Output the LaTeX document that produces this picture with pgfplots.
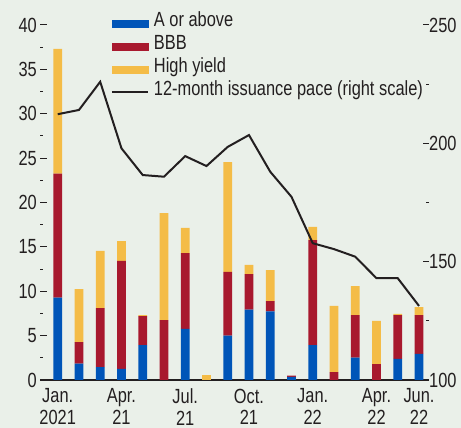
\documentclass[border=0pt]{standalone}
\usepackage{pgfplots}
\pgfplotsset{compat=1.18}
\usepackage{pgfplotstable}
\usepackage{fontspec}
\setmainfont{Liberation Sans}[FakeStretch=0.8]
\definecolor{bg}{HTML}{EAF0E9}
\definecolor{cblue}{HTML}{0055B8}
\definecolor{cred}{HTML}{A8192E}
\definecolor{cyel}{HTML}{F4BC47}
\definecolor{txt}{HTML}{231F20}
\pgfplotstableread{
m blue red yel
0 9.27 13.98 14.05
1 1.84 2.44 5.97
2 1.46 6.65 6.43
3 1.24 12.17 2.25
4 3.94 3.27 0.11
5 0 6.76 12.04
6 5.75 8.55 2.83
7 0 0 0.56
8 5.00 7.17 12.39
9 7.92 4.02 1.02
10 7.74 1.16 3.49
11 0.34 0.15 0
12 3.94 11.83 1.47
13 0 0.90 7.44
14 2.52 4.80 3.27
15 0 1.80 4.85
16 2.37 4.95 0.12
17 2.93 4.39 0.90
}\bars
\pgfplotstableread{
m pace
0 212.3
1 214.1
2 226.0
3 197.9
4 186.6
5 185.9
6 194.6
7 190.4
8 198.5
9 203.5
10 188.0
11 177.4
12 157.8
13 155.3
14 152.1
15 143.0
16 143.0
17 131.3
}\pace
\newcommand{\chartfont}{\fontsize{20.5bp}{21.7bp}\selectfont}
\pgfplotsset{
  common/.style={
    scale only axis, width=389bp, height=355bp,
    at={(0bp,0bp)}, anchor=south west,
    xmin=-0.833, xmax=17.47,
    tick align=inside,
    major tick length=6.5bp, minor tick length=3bp,
    tick style={txt, line width=1bp},
    /pgf/number format/assume math mode=true,
    tick label style={text=txt, font=\chartfont},
  }
}
\begin{document}
\chartfont
\begin{tikzpicture}
\useasboundingbox (-40bp,-48bp) rectangle (421bp,380bp);
\fill[bg] (-40bp,-48bp) rectangle (421bp,380bp);
\begin{axis}[common,
  ymin=0, ymax=40,
  axis x line*=bottom, axis y line*=left,
  y axis line style={draw=none},
  x axis line style={txt, line width=1.3bp, -},
  ytick={0,5,...,40}, minor ytick={2.5,7.5,...,37.5},
  xtick={0,3,6,9,12,15,17},
  xticklabels={Jan.\\2021,Apr.\\21,Jul.\\21,Oct.\\21,Jan.\\22,Apr.\\22,Jun.\\22},
  x tick label style={align=center, inner sep=0pt, anchor=north, yshift=-8.5bp},
  y tick label style={inner sep=0pt, xshift=-3bp},
  ybar stacked, bar width=0.41,
]
\addplot[fill=cblue, draw=none] table[x=m, y=blue] {\bars};
\addplot[fill=cred, draw=none] table[x=m, y=red] {\bars};
\addplot[fill=cyel, draw=none] table[x=m, y=yel] {\bars};
\end{axis}
\begin{axis}[common,
  ymin=100, ymax=250,
  axis y line*=right, hide x axis,
  y axis line style={draw=none},
  ytick={100,150,200,250}, minor ytick={125,175,225},
  y tick label style={inner sep=0pt, xshift=0bp},
  legend style={draw=none, fill=none, inner sep=0pt, outer sep=0pt,
    at={(0.1825,1.037)}, anchor=north west,
    legend cell align=left, font=\chartfont,
    nodes={inner sep=0pt, text height=15bp, text depth=8bp, text=txt},
    row sep=0pt,
    /tikz/every odd column/.append style={column sep=5bp}},
]
\addlegendimage{legend image code/.code={\fill[cblue] (0bp,-3.4bp) rectangle (36bp,3.4bp);}}
\addlegendentry{A or above}
\addlegendimage{legend image code/.code={\fill[cred] (0bp,-3.4bp) rectangle (36bp,3.4bp);}}
\addlegendentry{BBB}
\addlegendimage{legend image code/.code={\fill[cyel] (0bp,-3.4bp) rectangle (36bp,3.4bp);}}
\addlegendentry{High yield}
\addplot[txt, line width=2bp, line join=miter,
  legend image code/.code={\draw[txt, line width=2bp] (0bp,0bp) -- (36bp,0bp);}]
  table[x=m, y=pace] {\pace};
\addlegendentry{12-month issuance pace (right scale)}
\end{axis}
\end{tikzpicture}
\end{document}
